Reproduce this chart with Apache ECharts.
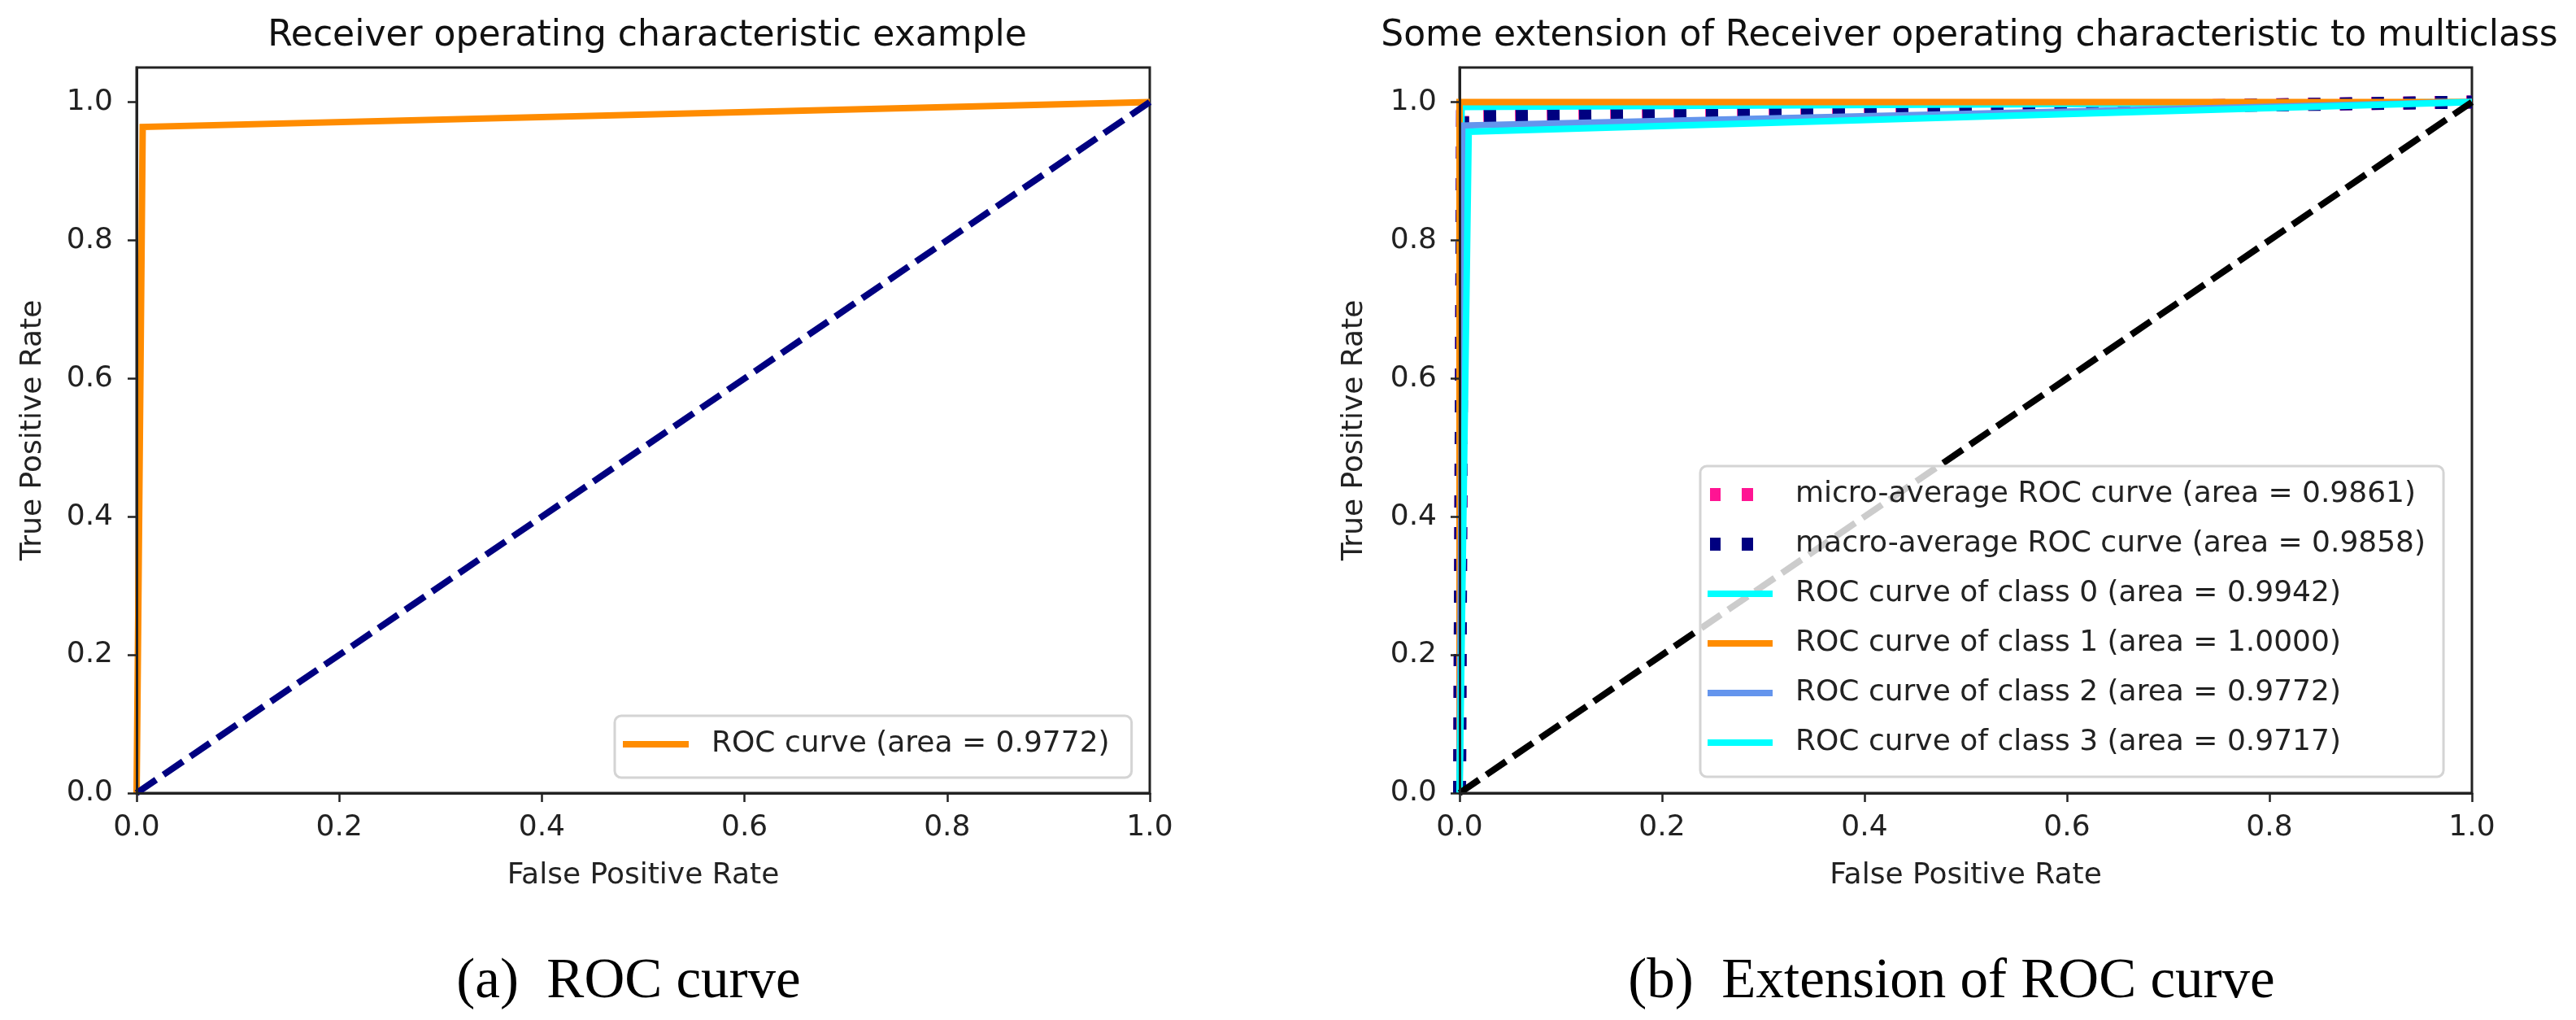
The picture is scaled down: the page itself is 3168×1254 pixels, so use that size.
<!DOCTYPE html>
<html>
<head>
<meta charset="utf-8">
<script src="https://cdn.jsdelivr.net/npm/echarts@6/dist/echarts.min.js"></script>
<style>
html,body{margin:0;padding:0;background:#fff;}
#chart{width:3168px;height:1254px;}
</style>
</head>
<body>
<div id="chart"></div>
<script>
// ---- data ----
const xTicks = [0, 0.2, 0.4, 0.6, 0.8, 1.0];
const yTicks = [0, 0.2, 0.4, 0.6, 0.8, 1.0];

// left panel: single ROC curve + chance line
const rocFpr = [0, 0.006, 1];
const rocTpr = [0, 0.964, 1];
const chanceFpr = [0, 1];
const chanceTpr = [0, 1];

// right panel: multiclass curves
const microFpr = [0, 0.003, 1];
const microTpr = [0, 0.980, 1];
const macroFpr = [0, 0.003, 1];
const macroTpr = [0, 0.979, 1];
const class0Fpr = [0, 0.002, 1];
const class0Tpr = [0, 0.993, 1];
const class1Fpr = [0, 0, 1];
const class1Tpr = [0, 1, 1];
const class2Fpr = [0, 0.004, 1];
const class2Tpr = [0, 0.966, 1];
const class3Fpr = [0, 0.009, 1];
const class3Tpr = [0, 0.957, 1];

const leftTitle = 'Receiver operating characteristic example';
const rightTitle = 'Some extension of Receiver operating characteristic to multiclass';
const captionA = '(a)\u2002ROC curve';
const captionB = '(b)\u2002Extension of ROC curve';
const nameROC = 'ROC curve (area = 0.9772)';
const nameMicro = 'micro-average ROC curve (area = 0.9861)';
const nameMacro = 'macro-average ROC curve (area = 0.9858)';
const nameC0 = 'ROC curve of class 0 (area = 0.9942)';
const nameC1 = 'ROC curve of class 1 (area = 1.0000)';
const nameC2 = 'ROC curve of class 2 (area = 0.9772)';
const nameC3 = 'ROC curve of class 3 (area = 0.9717)';

// ---- helpers ----
const zip = (xs, ys) => xs.map((x, i) => [x, ys[i]]);
const FONT = 'DejaVu Sans';
const AX = '#222';

function xAxisCfg(gridIndex) {
  return {
    type: 'value', gridIndex, min: 0, max: 1, interval: 0.2, z: 5,
    name: 'False Positive Rate', nameLocation: 'middle', nameGap: 84,
    nameTextStyle: {fontFamily: FONT, fontSize: 36, color: AX},
    axisLine: {show: true, lineStyle: {color: AX, width: 3}},
    axisTick: {show: true, length: 11, lineStyle: {color: AX, width: 2.5}, customValues: xTicks},
    axisLabel: {fontFamily: FONT, fontSize: 36, color: AX, margin: 25,
      customValues: xTicks, formatter: v => v.toFixed(1)},
    splitLine: {show: false}
  };
}
function yAxisCfg(gridIndex, nameGap, margin) {
  return {
    type: 'value', gridIndex, min: 0, max: 1.05, z: 5,
    name: 'True Positive Rate', nameLocation: 'middle', nameGap,
    nameTextStyle: {fontFamily: FONT, fontSize: 36, color: AX},
    axisLine: {show: true, lineStyle: {color: AX, width: 3}},
    axisTick: {show: true, length: 11, lineStyle: {color: AX, width: 2.5}, customValues: yTicks},
    axisLabel: {fontFamily: FONT, fontSize: 36, color: AX, margin,
      customValues: yTicks, formatter: v => v.toFixed(1)},
    splitLine: {show: false}
  };
}
function lineSeries(name, xi, yi, data, color, width, type, z) {
  return {
    type: 'line', name, xAxisIndex: xi, yAxisIndex: yi, data,
    showSymbol: false, symbol: 'none', smooth: false, z,
    color,
    lineStyle: {color, width, type, cap: 'butt', join: 'miter'},
    emphasis: {disabled: true}
  };
}

const dotIcon = 'path://M0,0M80,16M3,0h13v16h-13zM42,0h14v16h-14z';
const barIcon = 'path://M0,0M80,16M0,4h80v8h-80z';

const legendCommon = {
  orient: 'vertical', selectedMode: false, z: 8,
  backgroundColor: 'rgba(255,255,255,0.8)',
  borderColor: '#d4d4d4', borderWidth: 3, borderRadius: 8,
  itemGap: 21,
  itemStyle: {borderWidth: 0},
  textStyle: {fontFamily: FONT, fontSize: 36, color: AX, lineHeight: 40, padding: [0, 0, 0, 23]}
};

const option = {
  animation: false,
  backgroundColor: '#ffffff',
  title: [
    {text: leftTitle, left: 791, top: 15, textAlign: 'center',
      textStyle: {fontFamily: FONT, fontSize: 44, fontWeight: 'normal', color: '#111', lineHeight: 50}},
    {text: rightTitle, left: 2417, top: 15, textAlign: 'center',
      textStyle: {fontFamily: FONT, fontSize: 44, fontWeight: 'normal', color: '#111', lineHeight: 50}},
    {text: captionA, left: 768, top: 1163, textAlign: 'center',
      textStyle: {fontFamily: 'Liberation Serif', fontSize: 69, fontWeight: 'normal', color: '#000', lineHeight: 80}},
    {text: captionB, left: 2395, top: 1163, textAlign: 'center',
      textStyle: {fontFamily: 'Liberation Serif', fontSize: 69, fontWeight: 'normal', color: '#000', lineHeight: 80}}
  ],
  grid: [
    {left: 168, top: 83, width: 1246, height: 892, show: true, borderColor: AX, borderWidth: 3, backgroundColor: 'transparent'},
    {left: 1795, top: 83, width: 1245, height: 892, show: true, borderColor: AX, borderWidth: 3, backgroundColor: 'transparent'}
  ],
  xAxis: [xAxisCfg(0), xAxisCfg(1)],
  yAxis: [yAxisCfg(0, 109, 29), yAxisCfg(1, 111, 28)],
  legend: [
    Object.assign({}, legendCommon, {
      left: 756, top: 880, padding: [15, 27, 21, 10],
      itemWidth: 81, itemHeight: 8,
      data: [{name: nameROC, icon: 'rect', itemStyle: {color: '#ff8c00', borderWidth: 0}}]
    }),
    Object.assign({}, legendCommon, {
      left: 2091, top: 573, padding: [15, 22, 22, 9],
      itemWidth: 80, itemHeight: 16,
      data: [
        {name: nameMicro, icon: dotIcon, itemStyle: {color: '#ff1493', borderWidth: 0}},
        {name: nameMacro, icon: dotIcon, itemStyle: {color: '#000080', borderWidth: 0}},
        {name: nameC0, icon: barIcon, itemStyle: {color: '#00ffff', borderWidth: 0}},
        {name: nameC1, icon: barIcon, itemStyle: {color: '#ff8c00', borderWidth: 0}},
        {name: nameC2, icon: barIcon, itemStyle: {color: '#6495ed', borderWidth: 0}},
        {name: nameC3, icon: barIcon, itemStyle: {color: '#00ffff', borderWidth: 0}}
      ]
    })
  ],
  series: [
    lineSeries(nameROC, 0, 0, zip(rocFpr, rocTpr), '#ff8c00', 8, 'solid', 2),
    lineSeries('chance-left', 0, 0, zip(chanceFpr, chanceTpr), '#000080', 8, [29, 11], 3),
    lineSeries(nameMicro, 1, 1, zip(microFpr, microTpr), '#ff1493', 16, [15, 24], 2),
    lineSeries(nameMacro, 1, 1, zip(macroFpr, macroTpr), '#000080', 16, [15, 24], 2),
    lineSeries(nameC0, 1, 1, zip(class0Fpr, class0Tpr), '#00ffff', 8, 'solid', 2),
    lineSeries(nameC1, 1, 1, zip(class1Fpr, class1Tpr), '#ff8c00', 8, 'solid', 2),
    lineSeries(nameC2, 1, 1, zip(class2Fpr, class2Tpr), '#6495ed', 8, 'solid', 2),
    lineSeries(nameC3, 1, 1, zip(class3Fpr, class3Tpr), '#00ffff', 8, 'solid', 2),
    lineSeries('chance-right', 1, 1, zip(chanceFpr, chanceTpr), '#000000', 8, [29, 11], 3)
  ]
};

const chart = echarts.init(document.getElementById('chart'), null, {renderer: 'canvas'});
chart.setOption(option);
</script>
</body>
</html>
